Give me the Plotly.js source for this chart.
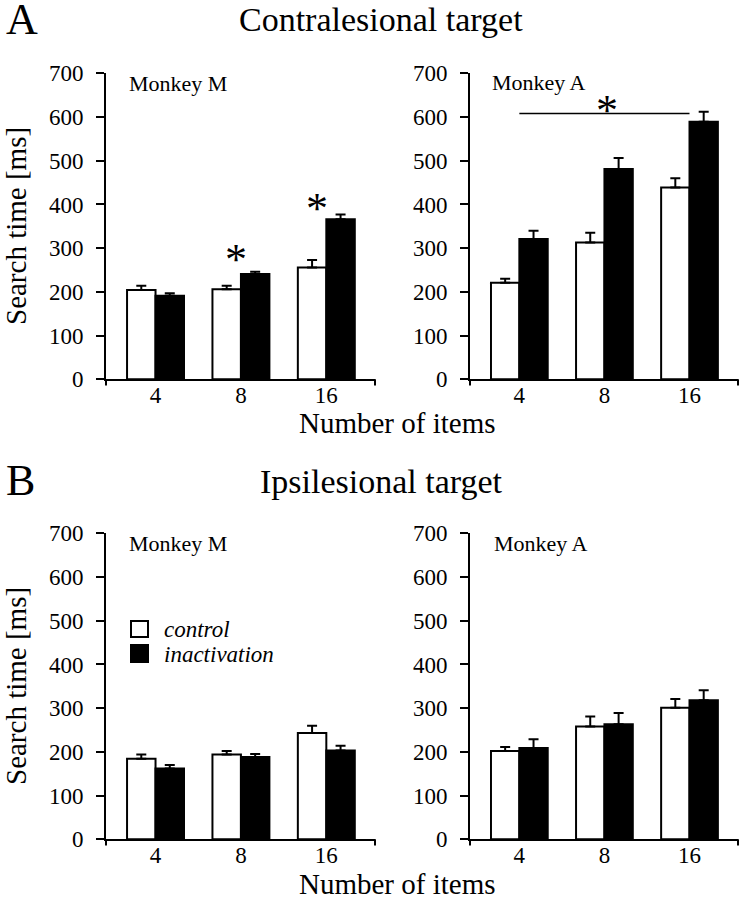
<!DOCTYPE html>
<html>
<head>
<meta charset="utf-8">
<script src="https://cdn.plot.ly/plotly-3.0.1.min.js"></script>
<style>html,body{margin:0;padding:0;background:#fff;}#chart{width:744px;height:899px;}</style>
</head>
<body>
<div id="chart"></div>
<script>
// ---- data ----
var categories = ['4', '8', '16'];
var contraM_control = [204, 206, 256];
var contraM_control_err = [10, 8, 17];
var contraM_inact = [191, 241, 366];
var contraM_inact_err = [6, 5, 11];
var contraA_control = [221, 313, 439];
var contraA_control_err = [9, 22, 21];
var contraA_inact = [321, 481, 589];
var contraA_inact_err = [19, 25, 23];
var ipsiM_control = [184, 194, 243];
var ipsiM_control_err = [10, 8, 17];
var ipsiM_inact = [162, 188, 203];
var ipsiM_inact_err = [8, 7, 11];
var ipsiA_control = [202, 258, 301];
var ipsiA_control_err = [9, 23, 20];
var ipsiA_inact = [209, 263, 318];
var ipsiA_inact_err = [20, 26, 23];
var yTicks = [0, 100, 200, 300, 400, 500, 600, 700];

// ---- layout helpers ----
var W = 744, H = 899;
var FONT = 'Liberation Serif';
function px(x) { return x / W; }
function py(y) { return 1 - y / H; }

function barTrace(vals, errs, fill, xa, ya, name) {
  return {
    type: 'bar', x: categories, y: vals, name: name,
    xaxis: xa, yaxis: ya, showlegend: false,
    marker: { color: fill, line: { color: '#000', width: 2 } },
    error_y: { type: 'data', array: errs, symmetric: false,
               arrayminus: errs.map(function () { return 0; }),
               color: '#000', thickness: 2, width: 5 },
    hoverinfo: 'skip'
  };
}

var data = [
  barTrace(contraM_control, contraM_control_err, '#fff', 'x', 'y', 'control'),
  barTrace(contraM_inact, contraM_inact_err, '#000', 'x', 'y', 'inactivation'),
  barTrace(contraA_control, contraA_control_err, '#fff', 'x2', 'y2', 'control'),
  barTrace(contraA_inact, contraA_inact_err, '#000', 'x2', 'y2', 'inactivation'),
  barTrace(ipsiM_control, ipsiM_control_err, '#fff', 'x3', 'y3', 'control'),
  barTrace(ipsiM_inact, ipsiM_inact_err, '#000', 'x3', 'y3', 'inactivation'),
  barTrace(ipsiA_control, ipsiA_control_err, '#fff', 'x4', 'y4', 'control'),
  barTrace(ipsiA_inact, ipsiA_inact_err, '#000', 'x4', 'y4', 'inactivation')
];

function xAxis(domain, anchor) {
  return {
    domain: domain, anchor: anchor, type: 'category',
    range: [-0.58, 2.57], showline: true, linecolor: '#000', linewidth: 2,
    ticks: '', showgrid: false, zeroline: false, fixedrange: true,
    tickfont: { family: FONT, size: 23, color: '#000' },
    ticklabelstandoff: -6
  };
}
function yAxis(domain, anchor) {
  return {
    domain: domain, anchor: anchor, range: [0, 700],
    tickvals: yTicks, ticktext: yTicks.map(String),
    showline: true, linecolor: '#000', linewidth: 2,
    ticks: 'outside', ticklen: 8, tickwidth: 2, tickcolor: '#000',
    showgrid: false, zeroline: false, fixedrange: true,
    tickfont: { family: FONT, size: 23, color: '#000' },
    ticklabelstandoff: 8
  };
}

var xL = [px(106), px(375)], xR = [px(470), px(738)];
var yT = [py(379.3), py(73.3)], yB = [py(839.3), py(533.3)];

function ann(text, x, y, size, opts) {
  var a = { text: text, x: x, y: y, xref: 'paper', yref: 'paper',
            showarrow: false, font: { family: FONT, size: size, color: '#000' },
            xanchor: 'center', yanchor: 'middle' };
  for (var k in opts) a[k] = opts[k];
  return a;
}
function star(x, y, xr, yr) {
  return { text: '*', x: x, y: y, xref: xr, yref: yr, showarrow: false,
           font: { family: FONT, size: 44, color: '#000' },
           xanchor: 'center', yanchor: 'middle', yshift: -8 };
}

var annotations = [
  ann('A', px(4), py(19), 44, { xanchor: 'left' }),
  ann('Contralesional target', px(381), py(20), 34),
  ann('B', px(4), py(480), 44, { xanchor: 'left' }),
  ann('Ipsilesional target', px(381), py(481), 34),
  ann('Number of items', px(397), py(423), 29),
  ann('Number of items', px(397), py(884), 29),
  ann('Search time [ms]', px(16), py(226), 29, { textangle: -90 }),
  ann('Search time [ms]', px(16), py(686), 29, { textangle: -90 }),
  ann('Monkey M', px(127), py(84), 22, { xanchor: 'left' }),
  ann('Monkey A', px(490), py(83), 22, { xanchor: 'left' }),
  ann('Monkey M', px(127), py(543), 22, { xanchor: 'left' }),
  ann('Monkey A', px(492), py(543), 22, { xanchor: 'left' }),
  ann('<i>control</i>', px(162), py(629), 23, { xanchor: 'left' }),
  ann('<i>inactivation</i>', px(162), py(654), 23, { xanchor: 'left' }),
  star(0.944, 292, 'x', 'y'),
  star(1.895, 410, 'x', 'y'),
  star(1.035, 634, 'x2', 'y2')
];

function endTicks(xr, yr) {
  return [0, 1].map(function (v) {
    return { type: 'line', xref: xr + ' domain', yref: yr + ' domain',
             x0: v, x1: v, y0: 0, y1: -0.02, line: { color: '#000', width: 2 } };
  });
}

var shapes = [].concat(
  endTicks('x', 'y'), endTicks('x2', 'y2'), endTicks('x3', 'y3'), endTicks('x4', 'y4'),
  [
    { type: 'line', xref: 'x2', yref: 'y2', x0: 0, x1: 2, y0: 608, y1: 608,
      line: { color: '#000', width: 1.5 } },
    { type: 'rect', xref: 'paper', yref: 'paper', x0: px(131), x1: px(148),
      y0: py(637), y1: py(621), fillcolor: '#fff', line: { color: '#000', width: 2 } },
    { type: 'rect', xref: 'paper', yref: 'paper', x0: px(131), x1: px(148),
      y0: py(662), y1: py(645), fillcolor: '#000', line: { color: '#000', width: 2 } }
  ]
);

var layout = {
  width: W, height: H, margin: { l: 0, r: 0, t: 0, b: 0 },
  paper_bgcolor: '#fff', plot_bgcolor: '#fff',
  barmode: 'group', bargap: 0.333, bargroupgap: 0,
  showlegend: false,
  font: { family: FONT, color: '#000' },
  xaxis: xAxis(xL, 'y'), yaxis: yAxis(yT, 'x'),
  xaxis2: xAxis(xR, 'y2'), yaxis2: yAxis(yT, 'x2'),
  xaxis3: xAxis(xL, 'y3'), yaxis3: yAxis(yB, 'x3'),
  xaxis4: xAxis(xR, 'y4'), yaxis4: yAxis(yB, 'x4'),
  annotations: annotations, shapes: shapes
};

Plotly.newPlot('chart', data, layout, { staticPlot: true, displayModeBar: false });
</script>
</body>
</html>
